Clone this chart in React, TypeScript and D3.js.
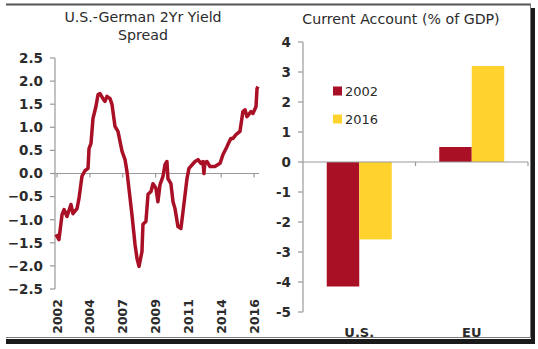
import React from "react";
import * as d3 from "d3";

// ---- Left chart: U.S.-German 2Yr yield spread (decimal year, pct pts)
const spreadYears = [
  2002.37, 2002.58, 2002.8, 2002.94, 2003.15, 2003.43, 2003.57, 2003.86, 2004.0, 2004.21,
  2004.42, 2004.64, 2004.71, 2004.85, 2004.99, 2005.2, 2005.35, 2005.49, 2005.7, 2005.84,
  2005.98, 2006.2, 2006.34, 2006.55, 2006.76, 2007.05, 2007.26, 2007.4, 2007.75, 2007.97,
  2008.11, 2008.25, 2008.46, 2008.53, 2008.74, 2008.89, 2009.1, 2009.24, 2009.45, 2009.59,
  2009.74, 2009.95, 2010.09, 2010.23, 2010.3, 2010.51, 2010.66, 2010.8, 2011.01, 2011.22,
  2011.37, 2011.65, 2011.79, 2012.22, 2012.43, 2012.64, 2012.78, 2012.85, 2012.92, 2013.06,
  2013.28, 2013.63, 2013.99, 2014.2, 2014.48, 2014.55, 2014.76, 2014.91, 2015.12, 2015.4,
  2015.61, 2015.76, 2015.9, 2016.18, 2016.32, 2016.54, 2016.61, 2016.68,
];
const spreadValues = [
  -1.32, -1.43, -0.89, -0.78, -0.93, -0.67, -0.87, -0.76, -0.54, -0.06,
  0.06, 0.11, 0.54, 0.65, 1.19, 1.45, 1.71, 1.73, 1.62, 1.56,
  1.67, 1.62, 1.49, 1.02, 0.91, 0.48, 0.3, 0.04, -0.89, -1.54,
  -1.84, -2.01, -1.69, -1.1, -1.04, -0.45, -0.39, -0.22, -0.32, -0.61,
  -0.24, -0.06, 0.19, 0.26, -0.11, -0.22, -0.61, -0.76, -1.15, -1.19,
  -0.82, -0.11, 0.11, 0.26, 0.3, 0.22, 0.26, 0.0, 0.24, 0.26,
  0.15, 0.15, 0.22, 0.41, 0.58, 0.63, 0.76, 0.76, 0.84, 0.91,
  1.34, 1.38, 1.23, 1.34, 1.3, 1.45, 1.84, 1.88,
];
const spreadTickLabels = ["2002", "2004", "2007", "2009", "2011", "2014", "2016"];
const spreadTickStart = 2002.45;
const spreadTickStep = 2.325;
const spreadYTicks = [2.5, 2.0, 1.5, 1.0, 0.5, 0.0, -0.5, -1.0, -1.5, -2.0, -2.5];

// ---- Right chart: current account (% of GDP)
const caCategories = ["U.S.", "EU"];
const caSeries = ["2002", "2016"];
const ca2002 = [-4.15, 0.5];
const ca2016 = [-2.58, 3.2];
const caYTicks = [4, 3, 2, 1, 0, -1, -2, -3, -4, -5];

const RED = "#A90F25";
const YELLOW = "#FFD22E";
const FONT = "DejaVu Sans, Verdana, sans-serif";
const TXT = "#2b2b2b";
const AX = "#9a9a9a";

export default function App() {
  // Left scales
  const lx = d3.scaleLinear().domain([2002.3, 2016.75]).range([55, 259]);
  const ly = d3.scaleLinear().domain([-2.5, 2.5]).range([289, 58]);
  const line = d3
    .line<number>()
    .x((_, i) => lx(spreadYears[i]))
    .y((d) => ly(d))
    .curve(d3.curveLinear);
  const lTicks = spreadTickLabels.map((l, i) => ({ l, v: spreadTickStart + i * spreadTickStep }));

  // Right scales
  const rx = d3.scaleBand().domain(caCategories).range([303, 528]);
  const ry = d3.scaleLinear().domain([-5, 4]).range([312, 42]);
  const inner = d3.scaleBand().domain(caSeries).range([0, 65]);
  const seriesVals = [ca2002, ca2016];
  const seriesCols = [RED, YELLOW];

  return (
    <svg
      width={538}
      height={349}
      style={{ position: "absolute", left: 0, top: 0, background: "#fff" }}
      fontFamily={FONT}
    >
      {/* frame */}
      <line x1={6} x2={531} y1={4.5} y2={4.5} stroke="#555" strokeWidth={2} />
      <line x1={530.5} x2={530.5} y1={4} y2={338} stroke="#777" strokeWidth={1} />
      <line x1={6} x2={531} y1={337.5} y2={337.5} stroke="#777" strokeWidth={1} />
      <rect x={531} y={8} width={4} height={336} fill="#1a1a1a" />
      <rect x={6} y={339} width={529} height={5} fill="#1a1a1a" />

      {/* Left chart title */}
      <text x={143} y={22} textAnchor="middle" fontSize={14.2} fill={TXT}>
        U.S.-German 2Yr Yield
      </text>
      <text x={143} y={40} textAnchor="middle" fontSize={14.2} fill={TXT}>
        Spread
      </text>

      {/* Left y axis */}
      <line x1={55} x2={55} y1={ly(2.5)} y2={ly(-2.5)} stroke={AX} strokeWidth={1.2} />
      {spreadYTicks.map((t) => (
        <g key={t}>
          <line x1={50} x2={55} y1={ly(t)} y2={ly(t)} stroke={AX} strokeWidth={1.2} />
          <text x={43} y={ly(t)} dy="0.36em" textAnchor="end" fontSize={13.5} fontWeight="bold" fill={TXT}>
            {d3.format(".1f")(t)}
          </text>
        </g>
      ))}

      {/* Left x axis (at zero) */}
      <line x1={55} x2={259} y1={ly(0)} y2={ly(0)} stroke={AX} strokeWidth={1.2} />
      {lTicks.map((t) => (
        <g key={t.l}>
          <line x1={lx(t.v)} x2={lx(t.v)} y1={ly(0)} y2={ly(0) + 4} stroke={AX} strokeWidth={1.2} />
          <text
            transform={`translate(${lx(t.v)},299) rotate(-90)`}
            dy="0.36em"
            textAnchor="end"
            fontSize={12.5}
            fontWeight="bold"
            fill={TXT}
          >
            {t.l}
          </text>
        </g>
      ))}

      {/* spread line */}
      <path d={line(spreadValues) || ""} fill="none" stroke={RED} strokeWidth={3.5} strokeLinejoin="round" />

      {/* Right chart title */}
      <text x={401} y={24} textAnchor="middle" fontSize={14.2} fill={TXT}>
        Current Account (% of GDP)
      </text>

      {/* bars */}
      {caCategories.map((c, ci) =>
        caSeries.map((s, si) => {
          const v = seriesVals[si][ci];
          const x0 = (rx(c) || 0) + (rx.bandwidth() - 65) / 2 + (inner(s) || 0);
          return (
            <rect
              key={c + s}
              x={x0}
              y={ry(Math.max(0, v))}
              width={inner.bandwidth()}
              height={Math.abs(ry(v) - ry(0))}
              fill={seriesCols[si]}
            />
          );
        })
      )}

      {/* Right y axis */}
      <line x1={303} x2={303} y1={ry(4)} y2={ry(-5)} stroke={AX} strokeWidth={1.2} />
      {caYTicks.map((t) => (
        <g key={t}>
          <line x1={298} x2={303} y1={ry(t)} y2={ry(t)} stroke={AX} strokeWidth={1.2} />
          <text x={291} y={ry(t)} dy="0.36em" textAnchor="end" fontSize={13.5} fontWeight="bold" fill={TXT}>
            {t}
          </text>
        </g>
      ))}

      {/* Right x axis at zero */}
      <line x1={303} x2={528} y1={ry(0)} y2={ry(0)} stroke={AX} strokeWidth={1.2} />
      {[rx(caCategories[1]) || 0, 528].map((x, i) => (
        <line key={i} x1={x} x2={x} y1={ry(0)} y2={ry(0) + 4} stroke={AX} strokeWidth={1.2} />
      ))}
      {caCategories.map((c) => (
        <text
          key={c}
          x={(rx(c) || 0) + rx.bandwidth() / 2}
          y={337}
          textAnchor="middle"
          fontSize={13}
          fontWeight="bold"
          fill={TXT}
        >
          {c}
        </text>
      ))}

      {/* legend */}
      {caSeries.map((s, i) => (
        <g key={s} transform={`translate(333,${91 + i * 28})`}>
          <rect x={0} y={-4.5} width={9} height={9} fill={seriesCols[i]} />
          <text x={12} y={0} dy="0.36em" fontSize={13} fill={TXT}>
            {s}
          </text>
        </g>
      ))}
    </svg>
  );
}
